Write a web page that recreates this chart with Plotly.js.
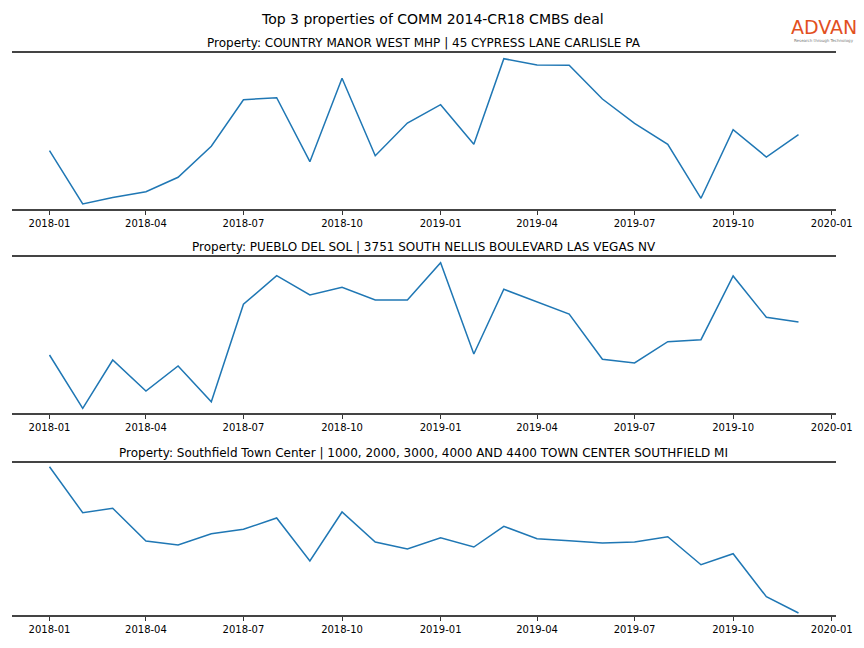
<!DOCTYPE html>
<html>
<head>
<meta charset="utf-8">
<script src="https://cdn.plot.ly/plotly-3.0.1.min.js"></script>
<style>html,body{margin:0;padding:0;background:#fff;}#chart{width:864px;height:648px;}</style>
</head>
<body>
<div id="chart"></div>
<script>
const months = ["2018-01-01","2018-02-01","2018-03-01","2018-04-01","2018-05-01","2018-06-01",
  "2018-07-01","2018-08-01","2018-09-01","2018-10-01","2018-11-01","2018-12-01",
  "2019-01-01","2019-02-01","2019-03-01","2019-04-01","2019-05-01","2019-06-01",
  "2019-07-01","2019-08-01","2019-09-01","2019-10-01","2019-11-01","2019-12-01"];

const mainTitle = "Top 3 properties of COMM 2014-CR18 CMBS deal";
const propertyTitles = [
  "Property: COUNTRY MANOR WEST MHP | 45 CYPRESS LANE CARLISLE PA",
  "Property: PUEBLO DEL SOL | 3751 SOUTH NELLIS BOULEVARD LAS VEGAS NV",
  "Property: Southfield Town Center | 1000, 2000, 3000, 4000 AND 4400 TOWN CENTER SOUTHFIELD MI"
];

const countryManor = [58.3, 5, 11.5, 17.3, 31.7, 62.7, 109.3, 111.3, 47.3, 130.7, 53.3, 86,
  104.3, 64.7, 150.3, 144, 143.7, 110, 85.7, 64.7, 10.7, 79.3, 52, 74.3];
const puebloDelSol = [58, 4.7, 53, 22, 47, 11.3, 108.7, 137.3, 118, 125.7, 113, 113,
  150.3, 59, 123.7, 111, 99, 53.7, 50, 71.3, 73.3, 137, 95.7, 91];
const southfield = [148.3, 102.3, 106.7, 74, 70, 81.3, 85.7, 97, 54, 103, 73, 66,
  77.3, 68, 88.7, 76.3, 74.3, 72, 73, 78.3, 50.3, 61.3, 18.3, 2];

const series = [countryManor, puebloDelSol, southfield];
const yRanges = [[0, 156], [0, 156], [0, 152]];

const W = 864, H = 648;
const xDom = [12 / W, 836 / W];
const yDoms = [
  [1 - 209 / H, 1 - 53 / H],
  [1 - 413 / H, 1 - 257 / H],
  [1 - 615 / H, 1 - 463 / H]
];
const font = "DejaVu Sans, sans-serif";

const traces = series.map((s, i) => ({
  x: months, y: s, type: "scatter", mode: "lines",
  line: {color: "#1f77b4", width: 1.5},
  xaxis: i === 0 ? "x" : "x" + (i + 1),
  yaxis: i === 0 ? "y" : "y" + (i + 1),
  hoverinfo: "skip", showlegend: false
}));

const layout = {
  width: W, height: H,
  margin: {l: 0, r: 0, t: 0, b: 0},
  paper_bgcolor: "#fff", plot_bgcolor: "#fff",
  font: {family: font, color: "#000"},
  showlegend: false,
  annotations: [
    {text: mainTitle, xref: "paper", yref: "paper", x: 432 / W, y: 1 - 19.5 / H,
     xanchor: "center", yanchor: "middle", showarrow: false, font: {size: 14, family: font, color: "#000"}},
    {text: "ADVAN", xref: "paper", yref: "paper", x: 824 / W, y: 1 - 27 / H,
     xanchor: "center", yanchor: "middle", showarrow: false, borderpad: 0,
     font: {size: 19, family: "DejaVu Sans, sans-serif", color: "#e2501e"}},
    {text: "Research through Technology", xref: "paper", yref: "paper", x: 824 / W, y: 1 - 40 / H,
     xanchor: "center", yanchor: "middle", showarrow: false, borderpad: 0,
     font: {size: 4, family: font, color: "#777"}}
  ]
};

propertyTitles.forEach((t, i) => {
  layout.annotations.push({
    text: t, xref: "paper", yref: "paper", x: (xDom[0] + xDom[1]) / 2, y: yDoms[i][1],
    xanchor: "center", yanchor: "bottom", yshift: 1, showarrow: false,
    font: {size: 12, family: font, color: "#000"}
  });
});

for (let i = 0; i < 3; i++) {
  const sfx = i === 0 ? "" : String(i + 1);
  layout["xaxis" + sfx] = {
    domain: xDom, anchor: "y" + sfx, type: "date",
    range: ["2017-11-27", "2020-01-05"],
    tick0: "2018-01-01", dtick: "M3", tickformat: "%Y-%m",
    ticks: "outside", ticklen: 3.5, tickwidth: 1, tickcolor: "#333",
    tickfont: {size: 10, family: font, color: "#000"},
    showline: true, mirror: true, linecolor: "#444", linewidth: 2,
    showgrid: false, zeroline: false, fixedrange: true
  };
  layout["yaxis" + sfx] = {
    domain: yDoms[i], anchor: "x" + sfx, range: yRanges[i],
    showticklabels: false, ticks: "", showline: false,
    showgrid: false, zeroline: false, fixedrange: true
  };
}

Plotly.newPlot("chart", traces, layout, {displayModeBar: false, staticPlot: true});
</script>
</body>
</html>
